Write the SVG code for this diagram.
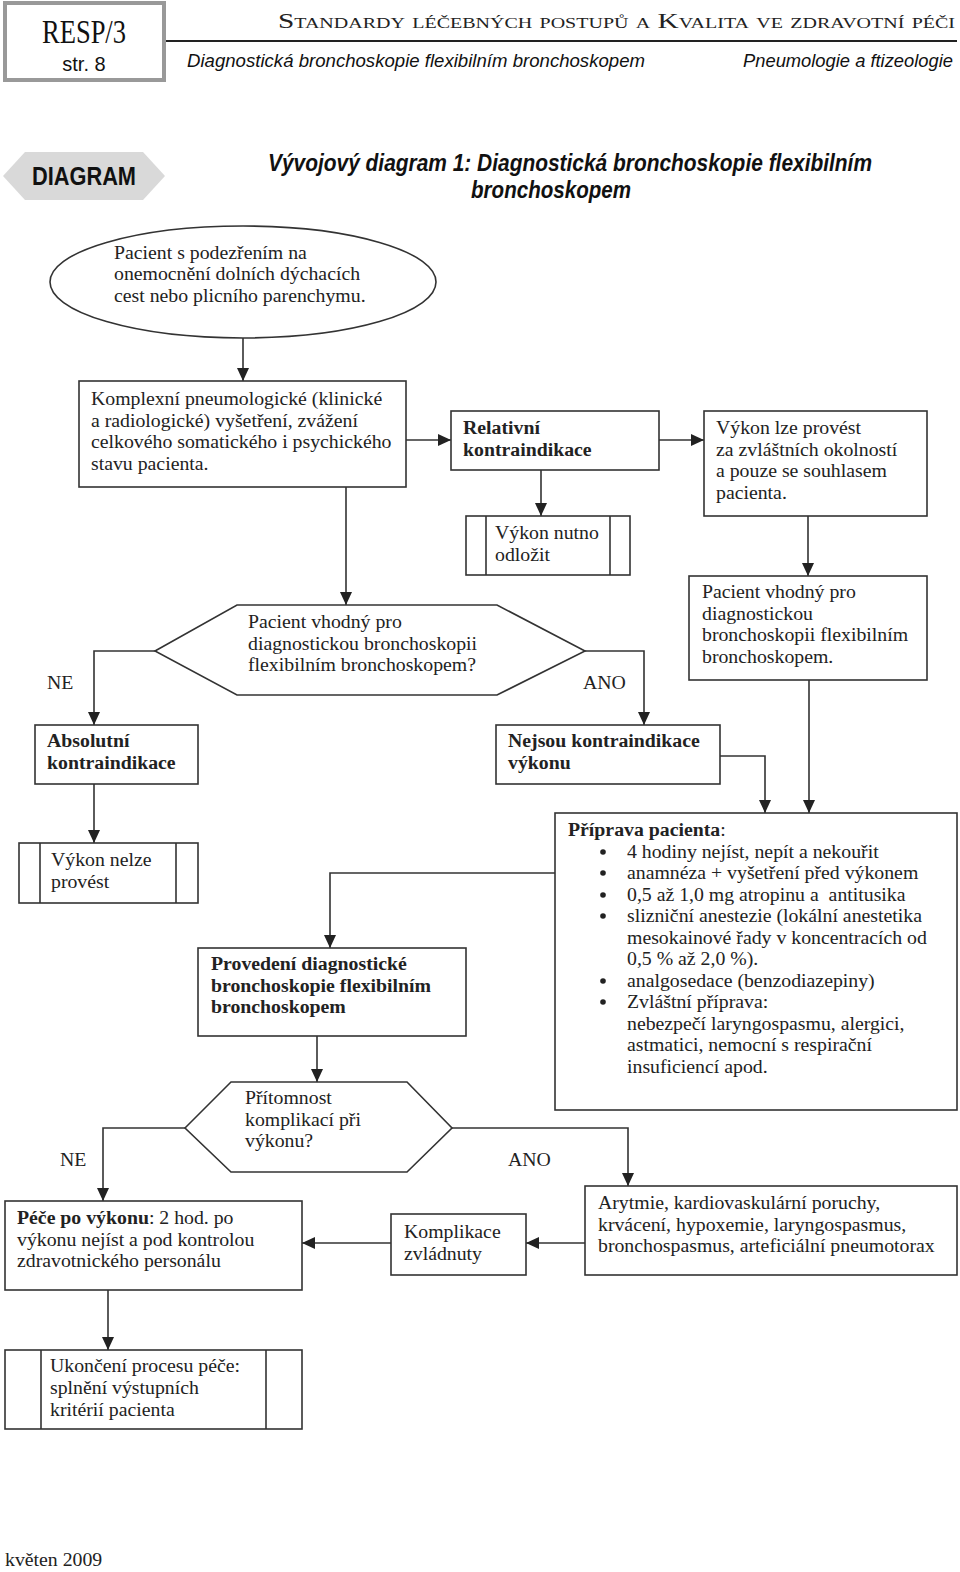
<svg xmlns="http://www.w3.org/2000/svg" width="960" height="1572" viewBox="0 0 960 1572">
<style>
.t{font-family:"Liberation Serif","Times New Roman",serif;font-size:19.8px;fill:#222}
.b{font-weight:bold}
.box{fill:#fff;stroke:#333;stroke-width:1.6}
.ln{fill:none;stroke:#333;stroke-width:1.6}
.hs{font-family:"Liberation Sans",Arial,sans-serif;font-style:italic;font-size:19px;fill:#111}
</style>
<defs>
<marker id="ah" markerUnits="userSpaceOnUse" markerWidth="14" markerHeight="14" viewBox="0 0 14 14" refX="13" refY="7" orient="auto">
<path d="M0,1 L13,7 L0,13 Z" fill="#222"/>
</marker>
</defs>
<rect width="960" height="1572" fill="#fff"/>

<g id="header">
<rect x="5" y="3" width="159" height="77" fill="#fff" stroke="#999" stroke-width="4"/>
<text x="84" y="43" text-anchor="middle" font-family="Liberation Serif,serif" font-size="34" fill="#111" textLength="84" lengthAdjust="spacingAndGlyphs">RESP/3</text>
<text x="84" y="71" text-anchor="middle" font-family="Liberation Sans,Arial,sans-serif" font-size="20" fill="#111">str. 8</text>
<line x1="166" y1="41" x2="957" y2="41" stroke="#222" stroke-width="2"/>
<text x="278" y="28" font-family="Liberation Serif,serif" font-size="22" fill="#222" font-variant="small-caps" textLength="677" lengthAdjust="spacingAndGlyphs">Standardy léčebných postupů a Kvalita ve zdravotní péči</text>
<text x="187" y="67" class="hs" textLength="458" lengthAdjust="spacingAndGlyphs">Diagnostická bronchoskopie flexibilním bronchoskopem</text>
<text x="953" y="67" class="hs" text-anchor="end" textLength="210" lengthAdjust="spacingAndGlyphs">Pneumologie a ftizeologie</text>
</g>

<g id="banner">
<polygon points="3,176 25,152 143,152 165,176 143,200 25,200" fill="#d9d9d9"/>
<text x="84" y="185" text-anchor="middle" font-family="Liberation Sans Narrow,Liberation Sans,sans-serif" font-weight="bold" font-size="25" fill="#111" textLength="104" lengthAdjust="spacingAndGlyphs">DIAGRAM</text>
<text x="268" y="171" font-family="Liberation Sans Narrow,Liberation Sans,sans-serif" font-weight="bold" font-style="italic" font-size="23" fill="#111" textLength="604" lengthAdjust="spacingAndGlyphs">Vývojový diagram 1: Diagnostická bronchoskopie flexibilním</text>
<text x="551" y="198" text-anchor="middle" font-family="Liberation Sans Narrow,Liberation Sans,sans-serif" font-weight="bold" font-style="italic" font-size="23" fill="#111" textLength="160" lengthAdjust="spacingAndGlyphs">bronchoskopem</text>
</g>

<g id="connectors">
<line class="ln" x1="243" y1="338" x2="243" y2="381" marker-end="url(#ah)"/>
<line class="ln" x1="406" y1="440" x2="451" y2="440" marker-end="url(#ah)"/>
<line class="ln" x1="659" y1="440" x2="704" y2="440" marker-end="url(#ah)"/>
<line class="ln" x1="541" y1="470" x2="541" y2="516" marker-end="url(#ah)"/>
<line class="ln" x1="808" y1="516" x2="808" y2="576" marker-end="url(#ah)"/>
<line class="ln" x1="346" y1="487" x2="346" y2="605" marker-end="url(#ah)"/>
<polyline class="ln" points="155,651 94,651 94,725" marker-end="url(#ah)"/>
<polyline class="ln" points="585,651 644,651 644,725" marker-end="url(#ah)"/>
<line class="ln" x1="94" y1="784" x2="94" y2="843" marker-end="url(#ah)"/>
<polyline class="ln" points="720,756 765,756 765,813" marker-end="url(#ah)"/>
<line class="ln" x1="809" y1="680" x2="809" y2="813" marker-end="url(#ah)"/>
<polyline class="ln" points="555,873 330,873 330,948" marker-end="url(#ah)"/>
<line class="ln" x1="317" y1="1036" x2="317" y2="1082" marker-end="url(#ah)"/>
<polyline class="ln" points="185,1128 103,1128 103,1201" marker-end="url(#ah)"/>
<polyline class="ln" points="452,1128 628,1128 628,1186" marker-end="url(#ah)"/>
<line class="ln" x1="585" y1="1243" x2="526" y2="1243" marker-end="url(#ah)"/>
<line class="ln" x1="391" y1="1243" x2="302" y2="1243" marker-end="url(#ah)"/>
<line class="ln" x1="108" y1="1290" x2="108" y2="1350" marker-end="url(#ah)"/>
</g>

<g id="labels">
<text class="t" x="47" y="689">NE</text>
<text class="t" x="583" y="689">ANO</text>
<text class="t" x="60" y="1166">NE</text>
<text class="t" x="508" y="1166">ANO</text>
</g>

<g id="start">
<ellipse class="box" cx="243" cy="282" rx="193" ry="56"/>
<text class="t" x="114" y="259">Pacient s podezřením na</text>
<text class="t" x="114" y="280">onemocnění dolních dýchacích</text>
<text class="t" x="114" y="302">cest nebo plicního parenchymu.</text>
</g>

<g id="komplexni">
<rect class="box" x="79" y="381" width="327" height="106"/>
<text class="t" x="91" y="405">Komplexní pneumologické (klinické</text>
<text class="t" x="91" y="427">a radiologické) vyšetření, zvážení</text>
<text class="t" x="91" y="448">celkového somatického i psychického</text>
<text class="t" x="91" y="470">stavu pacienta.</text>
</g>

<g id="relativni">
<rect class="box" x="451" y="411" width="208" height="59"/>
<text class="t b" x="463" y="434">Relativní</text>
<text class="t b" x="463" y="456">kontraindikace</text>
</g>

<g id="vykon-lze">
<rect class="box" x="704" y="411" width="223" height="105"/>
<text class="t" x="716" y="434">Výkon lze provést</text>
<text class="t" x="716" y="456">za zvláštních okolností</text>
<text class="t" x="716" y="477">a pouze se souhlasem</text>
<text class="t" x="716" y="499">pacienta.</text>
</g>

<g id="odlozit">
<rect class="box" x="466" y="516" width="164" height="59"/>
<line class="ln" x1="486" y1="516" x2="486" y2="575"/>
<line class="ln" x1="610" y1="516" x2="610" y2="575"/>
<text class="t" x="495" y="539">Výkon nutno</text>
<text class="t" x="495" y="561">odložit</text>
</g>

<g id="vhodny-box">
<rect class="box" x="689" y="576" width="238" height="104"/>
<text class="t" x="702" y="598">Pacient vhodný pro</text>
<text class="t" x="702" y="620">diagnostickou</text>
<text class="t" x="702" y="641">bronchoskopii flexibilním</text>
<text class="t" x="702" y="663">bronchoskopem.</text>
</g>

<g id="decision1">
<polygon class="box" points="155,651 237,605 497,605 585,651 497,695 237,695"/>
<text class="t" x="248" y="628">Pacient vhodný pro</text>
<text class="t" x="248" y="650">diagnostickou bronchoskopii</text>
<text class="t" x="248" y="671">flexibilním bronchoskopem?</text>
</g>

<g id="absolutni">
<rect class="box" x="35" y="725" width="163" height="59"/>
<text class="t b" x="47" y="747">Absolutní</text>
<text class="t b" x="47" y="769">kontraindikace</text>
</g>

<g id="nejsou">
<rect class="box" x="496" y="725" width="224" height="59"/>
<text class="t b" x="508" y="747">Nejsou kontraindikace</text>
<text class="t b" x="508" y="769">výkonu</text>
</g>

<g id="nelze">
<rect class="box" x="19" y="843" width="179" height="60"/>
<line class="ln" x1="40" y1="843" x2="40" y2="903"/>
<line class="ln" x1="176" y1="843" x2="176" y2="903"/>
<text class="t" x="51" y="866">Výkon nelze</text>
<text class="t" x="51" y="888">provést</text>
</g>

<g id="priprava">
<rect class="box" x="555" y="813" width="402" height="297"/>
<text class="t" x="568" y="836"><tspan class="b">Příprava pacienta</tspan>:</text>
<g fill="#222">
<circle cx="603" cy="852" r="2.8"/>
<circle cx="603" cy="873" r="2.8"/>
<circle cx="603" cy="895" r="2.8"/>
<circle cx="603" cy="916" r="2.8"/>
<circle cx="603" cy="981" r="2.8"/>
<circle cx="603" cy="1002" r="2.8"/>
</g>
<text class="t" x="627" y="858">4 hodiny nejíst, nepít a nekouřit</text>
<text class="t" x="627" y="879">anamnéza + vyšetření před výkonem</text>
<text class="t" x="627" y="901" xml:space="preserve">0,5 až 1,0 mg atropinu a  antitusika</text>
<text class="t" x="627" y="922">slizniční anestezie (lokální anestetika</text>
<text class="t" x="627" y="944">mesokainové řady v koncentracích od</text>
<text class="t" x="627" y="965">0,5 % až 2,0 %).</text>
<text class="t" x="627" y="987">analgosedace (benzodiazepiny)</text>
<text class="t" x="627" y="1008">Zvláštní příprava:</text>
<text class="t" x="627" y="1030">nebezpečí laryngospasmu, alergici,</text>
<text class="t" x="627" y="1051">astmatici, nemocní s respirační</text>
<text class="t" x="627" y="1073">insuficiencí apod.</text>
</g>

<g id="provedeni">
<rect class="box" x="198" y="948" width="268" height="88"/>
<text class="t b" x="211" y="970">Provedení diagnostické</text>
<text class="t b" x="211" y="992">bronchoskopie flexibilním</text>
<text class="t b" x="211" y="1013">bronchoskopem</text>
</g>

<g id="decision2">
<polygon class="box" points="185,1128 231,1082 407,1082 452,1128 407,1172 231,1172"/>
<text class="t" x="245" y="1104">Přítomnost</text>
<text class="t" x="245" y="1126">komplikací při</text>
<text class="t" x="245" y="1147">výkonu?</text>
</g>

<g id="arytmie">
<rect class="box" x="585" y="1186" width="372" height="89"/>
<text class="t" x="598" y="1209">Arytmie, kardiovaskulární poruchy,</text>
<text class="t" x="598" y="1231">krvácení, hypoxemie, laryngospasmus,</text>
<text class="t" x="598" y="1252">bronchospasmus, arteficiální pneumotorax</text>
</g>

<g id="komplikace">
<rect class="box" x="391" y="1214" width="135" height="61"/>
<text class="t" x="404" y="1238">Komplikace</text>
<text class="t" x="404" y="1260">zvládnuty</text>
</g>

<g id="pece">
<rect class="box" x="5" y="1201" width="297" height="89"/>
<text class="t" x="17" y="1224"><tspan class="b">Péče po výkonu</tspan>: 2 hod. po</text>
<text class="t" x="17" y="1246">výkonu nejíst a pod kontrolou</text>
<text class="t" x="17" y="1267">zdravotnického personálu</text>
</g>

<g id="ukonceni">
<rect class="box" x="5" y="1350" width="297" height="79"/>
<line class="ln" x1="41" y1="1350" x2="41" y2="1429"/>
<line class="ln" x1="266" y1="1350" x2="266" y2="1429"/>
<text class="t" x="50" y="1372">Ukončení procesu péče:</text>
<text class="t" x="50" y="1394">splnění výstupních</text>
<text class="t" x="50" y="1416">kritérií pacienta</text>
</g>

<text class="t" x="5" y="1566">květen 2009</text>
</svg>
